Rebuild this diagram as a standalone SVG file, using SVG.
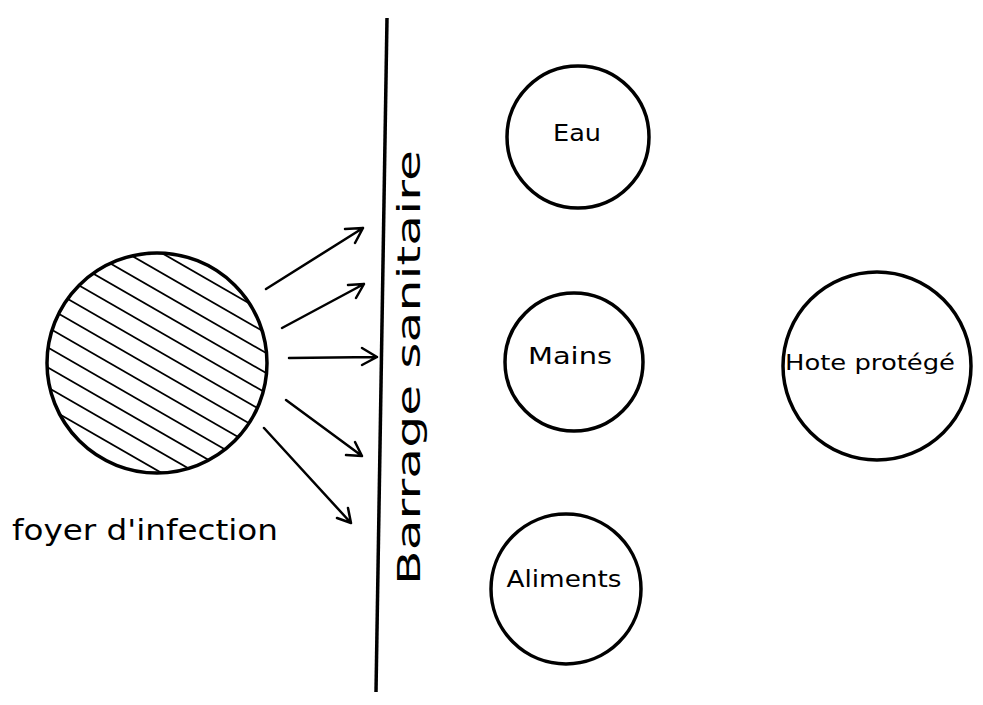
<svg xmlns="http://www.w3.org/2000/svg" width="983" height="705" viewBox="0 0 983 705">
<style>
.c{fill:none;stroke:#000;stroke-width:3.5}
.h{stroke:#000;stroke-width:1.8}
.a{fill:none;stroke:#000;stroke-width:2.5;stroke-linecap:round;stroke-linejoin:round}
.t{font-family:"DejaVu Sans","Liberation Sans",sans-serif;fill:#000}
</style>
<defs>
<clipPath id="cp"><circle cx="157" cy="363" r="110"/></clipPath>
</defs>
<rect width="983" height="705" fill="#fff"/>
<g id="foyer">
<g clip-path="url(#cp)" class="h">
<line x1="0" y1="160" x2="400" y2="390"/>
<line x1="0" y1="180" x2="400" y2="410"/>
<line x1="0" y1="200" x2="400" y2="430"/>
<line x1="0" y1="220" x2="400" y2="450"/>
<line x1="0" y1="240" x2="400" y2="470"/>
<line x1="0" y1="260" x2="400" y2="490"/>
<line x1="0" y1="280" x2="400" y2="510"/>
<line x1="0" y1="300" x2="400" y2="530"/>
<line x1="0" y1="320" x2="400" y2="550"/>
<line x1="0" y1="340" x2="400" y2="570"/>
<line x1="0" y1="360" x2="400" y2="590"/>
<line x1="0" y1="380" x2="400" y2="610"/>
<line x1="0" y1="400" x2="400" y2="630"/>
<line x1="0" y1="420" x2="400" y2="650"/>
</g>
<circle class="c" cx="157" cy="363" r="110"/>
<text class="t" x="12" y="540" font-size="28" textLength="266" lengthAdjust="spacingAndGlyphs">foyer d'infection</text>
</g>
<g id="barrage">
<line x1="387" y1="18" x2="376" y2="692" stroke="#000" stroke-width="3.5"/>
<text class="t" transform="translate(420,585) rotate(-90)" font-size="32" textLength="435" lengthAdjust="spacingAndGlyphs">Barrage  sanitaire</text>
</g>
<g id="eau">
<circle class="c" cx="578" cy="137" r="71"/>
<text class="t" x="577" y="141" font-size="23" text-anchor="middle" textLength="48" lengthAdjust="spacingAndGlyphs">Eau</text>
</g>
<g id="mains">
<circle class="c" cx="574" cy="362" r="69"/>
<text class="t" x="570" y="364" font-size="23" text-anchor="middle" textLength="84" lengthAdjust="spacingAndGlyphs">Mains</text>
</g>
<g id="aliments">
<circle class="c" cx="566" cy="589" r="75"/>
<text class="t" x="564" y="587" font-size="23" text-anchor="middle" textLength="115" lengthAdjust="spacingAndGlyphs">Aliments</text>
</g>
<g id="hote">
<circle class="c" cx="877" cy="366" r="94"/>
<text class="t" x="870" y="370" font-size="22" text-anchor="middle" textLength="170" lengthAdjust="spacingAndGlyphs">Hote protégé</text>
</g>
<g id="connectors" class="a">
<path d="M266,289 L363,228 M345,229 L363,228 L355,243"/>
<path d="M282,328 L364,284 M348,285 L364,284 L356,298"/>
<path d="M289,358 L377,357 M362,348 L377,357 L362,365"/>
<path d="M286,400 L362,456 M355,442 L362,456 L346,455"/>
<path d="M264,428 L351,523 M348,508 L351,523 L337,518"/>
</g>
</svg>
